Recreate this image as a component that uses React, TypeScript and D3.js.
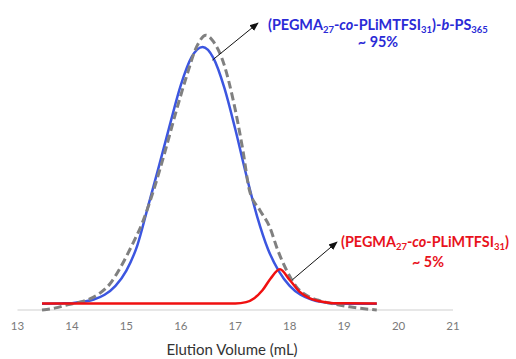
import { useMemo } from "react"
import * as d3 from "d3"

// elution volume (mL) / normalised detector response
const blockVol = [13.45, 13.8, 14.0, 14.2, 14.4, 14.6, 14.8, 15.0, 15.2, 15.4, 15.6, 15.8, 16.0, 16.2, 16.4, 16.6, 16.8, 17.0, 17.2, 17.4, 17.6, 17.8, 18.0, 18.2, 18.4, 18.6, 18.8, 19.0, 19.6]
const blockResp = [0.024, 0.025, 0.026, 0.031, 0.040, 0.058, 0.092, 0.150, 0.245, 0.395, 0.548, 0.705, 0.855, 0.962, 1.0, 0.958, 0.845, 0.688, 0.515, 0.357, 0.232, 0.148, 0.092, 0.058, 0.040, 0.030, 0.025, 0.024, 0.024]

const macroVol = [13.45, 17.0, 17.2, 17.35, 17.5, 17.65, 17.82, 18.0, 18.18, 18.37, 18.55, 18.8, 19.6]
const macroResp = [0.025, 0.025, 0.03, 0.045, 0.075, 0.12, 0.155, 0.114, 0.07, 0.044, 0.033, 0.026, 0.025]

const measVol = [13.45, 13.7, 13.9, 14.1, 14.3, 14.5, 14.7, 14.9, 15.1, 15.3, 15.5, 15.7, 15.9, 16.1, 16.3, 16.46, 16.6, 16.8, 16.96, 17.14, 17.26, 17.45, 17.63, 17.78, 17.94, 18.12, 18.3, 18.51, 18.69, 19.1, 19.6]
const measResp = [0.0, 0.008, 0.019, 0.028, 0.040, 0.062, 0.100, 0.165, 0.245, 0.335, 0.455, 0.595, 0.745, 0.885, 1.005, 1.045, 1.02, 0.93, 0.80, 0.608, 0.456, 0.38, 0.317, 0.228, 0.152, 0.089, 0.057, 0.038, 0.028, 0.012, 0.0]

const xTicks = [13, 14, 15, 16, 17, 18, 19, 20, 21]
const xTitle = "Elution Volume (mL)"

const W = 516
const H = 359
const font = "Lato, 'Open Sans', sans-serif"

export default function App() {
  const x = d3.scaleLinear().domain([13, 21]).range([17.5, 453])
  const y = d3.scaleLinear().domain([0, 1]).range([310, 47])

  const line = d3
    .line<[number, number]>()
    .x((d) => x(d[0]))
    .y((d) => y(d[1]))
    .curve(d3.curveMonotoneX)

  const paths = useMemo(
    () => ({
      block: line(blockVol.map((v, i) => [v, blockResp[i]])) || "",
      macro: line(macroVol.map((v, i) => [v, macroResp[i]])) || "",
      meas: line(measVol.map((v, i) => [v, measResp[i]])) || "",
    }),
    [],
  )

  const blue = "#2a2ad6"
  const red = "#e8121c"
  const fs = 14.4
  const sub = 9.5

  return (
    <svg width={W} height={H} style={{ position: "absolute", left: 0, top: 0 }} fontFamily={font}>
      <defs>
        <marker id="arr" viewBox="0 0 10 10" refX="9" refY="5" markerWidth="9" markerHeight="9" orient="auto">
          <path d="M0,1 L10,5 L0,9 z" fill="#111" />
        </marker>
      </defs>
      <rect width={W} height={H} fill="white" />

      {/* axis */}
      <line x1={x(13)} x2={x(21)} y1={310} y2={310} stroke="#d0d0d0" strokeWidth={1.2} />
      {xTicks.map((t) => (
        <text key={t} x={x(t)} y={330} textAnchor="middle" fontSize={11.5} fill="#7a7a7a">
          {t}
        </text>
      ))}
      <text x={232} y={355} textAnchor="middle" fontSize={15} fill="#333">
        {xTitle}
      </text>

      {/* traces */}
      <path d={paths.block} fill="none" stroke="#3c56e0" strokeWidth={2.5} />
      <path d={paths.meas} fill="none" stroke="#808080" strokeWidth={3} strokeDasharray="8,4" />
      <path d={paths.macro} fill="none" stroke="#f01010" strokeWidth={2.5} />

      {/* annotations */}
      <line x1={x(16.58)} y1={y(0.95)} x2={258} y2={23} stroke="#111" strokeWidth={1} markerEnd="url(#arr)" />
      <line x1={x(18.05)} y1={y(0.115)} x2={337} y2={242} stroke="#111" strokeWidth={1} markerEnd="url(#arr)" />

      <text x={268} y={30} fontSize={fs} fontWeight="bold" fill={blue}>
        <tspan>(PEGMA</tspan>
        <tspan fontSize={sub} dy={3}>27</tspan>
        <tspan dy={-3}>-</tspan>
        <tspan fontStyle="italic">co</tspan>
        <tspan>-PLiMTFSI</tspan>
        <tspan fontSize={sub} dy={3}>31</tspan>
        <tspan dy={-3}>)-</tspan>
        <tspan fontStyle="italic">b</tspan>
        <tspan>-PS</tspan>
        <tspan fontSize={sub} dy={3}>365</tspan>
      </text>
      <text x={378} y={47} textAnchor="middle" fontSize={fs} fontWeight="bold" fill={blue}>
        ~ 95%
      </text>

      <text x={341} y={247} fontSize={fs} fontWeight="bold" fill={red}>
        <tspan>(PEGMA</tspan>
        <tspan fontSize={sub} dy={3}>27</tspan>
        <tspan dy={-3}>-</tspan>
        <tspan fontStyle="italic">co</tspan>
        <tspan>-PLiMTFSI</tspan>
        <tspan fontSize={sub} dy={3}>31</tspan>
        <tspan dy={-3}>)</tspan>
      </text>
      <text x={428} y={267} textAnchor="middle" fontSize={fs} fontWeight="bold" fill={red}>
        ~ 5%
      </text>
    </svg>
  )
}
